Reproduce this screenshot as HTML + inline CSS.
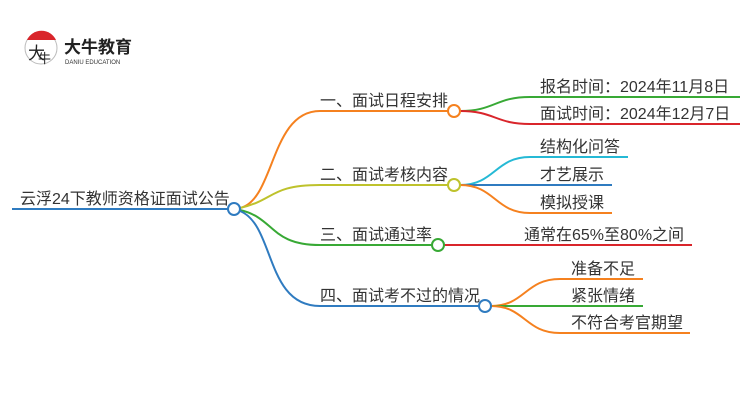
<!DOCTYPE html>
<html><head><meta charset="utf-8"><style>
html,body{margin:0;padding:0;background:#fff;width:750px;height:410px;overflow:hidden}
svg text{font-family:"Liberation Sans","Noto Sans CJK SC",sans-serif;fill:#333}
</style></head><body>
<svg width="750" height="410" viewBox="0 0 750 410" xmlns="http://www.w3.org/2000/svg">
<!-- logo -->
<circle cx="41" cy="48" r="16" fill="#fff" stroke="#bbb" stroke-width="1"/>
<path d="M27 40 A16 16 0 0 1 56 40 Z" fill="#d9252b"/>
<text x="28" y="59" font-size="17" style="fill:#222">大</text>
<text x="38" y="63" font-size="13" style="fill:#222">牛</text>
<text x="64" y="53" font-size="17" font-weight="bold" style="fill:#222">大牛教育</text>
<text x="65" y="64" font-size="6" style="fill:#333">DANIU EDUCATION</text>

<g fill="none" stroke-width="2">
<!-- root -->
<line x1="12" y1="209" x2="228" y2="209" stroke="#2f7bc0"/>
<path d="M240 208 C275 200, 270 111, 320 111 L448 111" stroke="#f5811f"/>
<path d="M240 208 C275 200, 270 185, 320 185 L448 185" stroke="#bec22c"/>
<path d="M240 210 C275 218, 270 245, 320 245 L432 245" stroke="#38a935"/>
<path d="M240 211 C275 225, 265 306, 320 306 L479 306" stroke="#2f7bc0"/>
<!-- branch 1 -->
<path d="M460 111 C495 111, 495 97, 530 97 L740 97" stroke="#38a935"/>
<path d="M460 111 C495 111, 495 124, 530 124 L740 124" stroke="#d9252b"/>
<!-- branch 2 -->
<path d="M460 185 C495 185, 495 157, 530 157 L628 157" stroke="#25b9d5"/>
<path d="M460 185 L612 185" stroke="#2f7bc0"/>
<path d="M460 185 C495 185, 495 213, 530 213 L612 213" stroke="#f5811f"/>
<!-- branch 3 -->
<path d="M444 245 L692 245" stroke="#d9252b"/>
<!-- branch 4 -->
<path d="M491 306 C525 306, 525 279, 560 279 L643 279" stroke="#f5811f"/>
<path d="M491 306 L643 306" stroke="#38a935"/>
<path d="M491 306 C525 306, 525 333, 560 333 L690 333" stroke="#f5811f"/>
</g>
<g fill="#fff" stroke-width="2">
<circle cx="234" cy="209" r="6" stroke="#2f7bc0"/>
<circle cx="454" cy="111" r="6" stroke="#f5811f"/>
<circle cx="454" cy="185" r="6" stroke="#bec22c"/>
<circle cx="438" cy="245" r="6" stroke="#38a935"/>
<circle cx="485" cy="306" r="6" stroke="#2f7bc0"/>
</g>
<g font-size="16">
<text x="20" y="204">云浮24下教师资格证面试公告</text>
<text x="320" y="106">一、面试日程安排</text>
<text x="320" y="180">二、面试考核内容</text>
<text x="320" y="240">三、面试通过率</text>
<text x="320" y="301">四、面试考不过的情况</text>
<text x="540" y="92">报名时间：2024年11月8日</text>
<text x="540" y="119">面试时间：2024年12月7日</text>
<text x="540" y="152">结构化问答</text>
<text x="540" y="180">才艺展示</text>
<text x="540" y="208">模拟授课</text>
<text x="524" y="240">通常在65%至80%之间</text>
<text x="571" y="274">准备不足</text>
<text x="571" y="301">紧张情绪</text>
<text x="571" y="328">不符合考官期望</text>
</g>
</svg>
</body></html>
